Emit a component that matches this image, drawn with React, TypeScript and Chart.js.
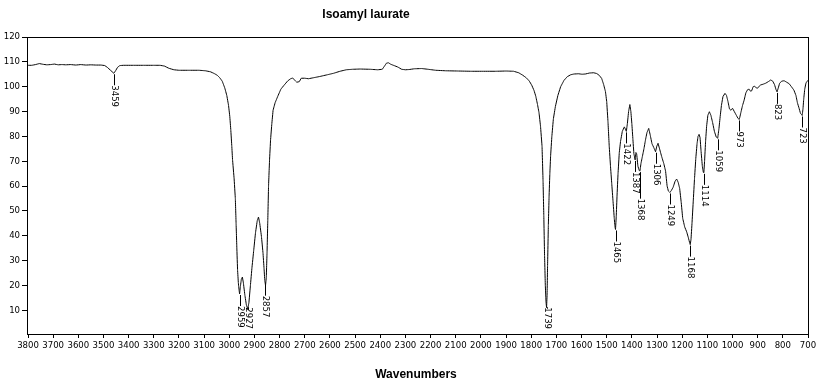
import React, { useEffect, useRef } from 'react';
import { Chart, registerables } from 'chart.js';

Chart.register(...registerables);

const chartTitle = 'Isoamyl laurate';
const xAxisTitle = 'Wavenumbers';

const wavenumbers = [
  3800, 3785, 3770, 3755, 3740, 3725, 3710, 3695, 3680, 3665, 3650, 3630, 3610, 3590, 3570, 3550, 3530, 3510,
  3495, 3485, 3472, 3459, 3452, 3444, 3435, 3420, 3380, 3340, 3300, 3275, 3258, 3240, 3220, 3200, 3160, 3120,
  3095, 3075, 3060, 3048, 3038, 3028, 3018, 3010, 3003, 2998, 2994, 2990, 2987, 2981, 2976, 2973, 2970, 2967,
  2964, 2961, 2959, 2956, 2952, 2948, 2944, 2938, 2932, 2927, 2922, 2916, 2910, 2903, 2896, 2889, 2884, 2879,
  2872, 2866, 2862, 2859, 2856, 2853, 2850, 2847, 2844, 2840, 2836, 2831, 2826, 2818, 2807, 2795, 2783, 2768,
  2756, 2748, 2740, 2732, 2722, 2714, 2700, 2685, 2665, 2640, 2610, 2585, 2560, 2535, 2510, 2480, 2440, 2410,
  2392, 2383, 2375, 2367, 2358, 2345, 2330, 2315, 2300, 2285, 2265, 2235, 2210, 2180, 2140, 2090, 2040, 1990,
  1940, 1900, 1870, 1850, 1835, 1820, 1808, 1798, 1789, 1782, 1775, 1769, 1763, 1757, 1753, 1750, 1747, 1744,
  1741, 1739, 1737, 1735, 1732, 1729, 1726, 1723, 1718, 1712, 1704, 1694, 1683, 1670, 1657, 1643, 1630, 1612,
  1598, 1585, 1568, 1552, 1540, 1530, 1520, 1512, 1505, 1500, 1495, 1490, 1485, 1480, 1475, 1470, 1467, 1465,
  1462, 1459, 1455, 1450, 1445, 1438, 1430, 1426, 1422, 1418, 1413, 1408, 1404, 1400, 1396, 1392, 1387, 1384,
  1381, 1376, 1371, 1368, 1364, 1358, 1352, 1346, 1340, 1333, 1327, 1320, 1313, 1306, 1301, 1296, 1290, 1282,
  1273, 1266, 1260, 1255, 1249, 1243, 1236, 1228, 1222, 1216, 1210, 1204, 1198, 1190, 1182, 1175, 1170, 1168,
  1165, 1161, 1156, 1151, 1146, 1141, 1137, 1133, 1129, 1125, 1120, 1116, 1114, 1111, 1107, 1103, 1098, 1092,
  1086, 1079, 1072, 1065, 1059, 1054, 1049, 1044, 1038, 1030, 1024, 1018, 1012, 1006, 1000, 993, 985, 978,
  973, 967, 960, 954, 947, 940, 934, 929, 924, 918, 912, 906, 900, 894, 888, 878, 868, 858, 848, 840, 833, 827,
  823, 819, 813, 805, 795, 785, 775, 766, 756, 748, 742, 736, 730, 726, 723, 720, 717, 713, 708, 700,
];

const transmittance = [
  108.6, 108.6, 108.9, 109.3, 109.0, 108.8, 108.9, 109.1, 108.8, 108.9, 108.8, 108.9, 108.7, 108.9, 108.7, 108.8, 108.7, 108.7,
  108.5, 107.8, 106.6, 105.4, 106.4, 107.8, 108.5, 108.6, 108.6, 108.6, 108.6, 108.6, 108.3, 107.4, 106.8, 106.6, 106.6, 106.6,
  106.4, 106.0, 105.3, 104.6, 103.6, 102.2, 99.5, 96.5, 92.5, 88, 82.6, 76, 70.5, 63.2, 55, 45, 35, 26,
  21, 18, 16.5, 19.5, 22.5, 23.3, 21, 16, 12, 10.5, 13, 20, 27, 34, 41, 46, 47.5, 45,
  39.5, 33, 27, 22, 20, 23, 33, 46, 60, 70.5, 78.5, 85, 90.5, 93.5, 96.2, 99, 100.5, 102.3,
  103.2, 103.5, 102.6, 101.8, 102, 103.4, 103.4, 103.2, 103.6, 104.1, 104.8, 105.4, 106.2, 106.8, 107.0, 107.1, 107.0, 106.8,
  107.0, 108.3, 109.5, 109.6, 109.0, 108.5, 107.9, 107.0, 106.8, 106.9, 107.2, 107.3, 107.0, 106.6, 106.4, 106.3, 106.2, 106.2,
  106.2, 106.3, 106.2, 105.6, 104.7, 103.6, 102.3, 100.6, 98.5, 96.2, 92.8, 89.5, 84, 76, 62, 48, 32, 20,
  13, 11, 16, 28, 44, 56, 65, 72, 80, 87, 92, 96.5, 100, 102.5, 104, 104.8, 105.1, 105.2,
  105.0, 105.1, 105.5, 105.6, 105.3, 104.6, 103.3, 100.8, 98, 94, 86, 76, 68, 61, 54, 47, 43.5, 42.5,
  48, 56, 65, 73.5, 78, 82, 83.8, 83, 82, 85, 90, 92.8, 90, 85, 79, 73, 70.5, 73.5,
  73, 68, 66.3, 66, 69, 72, 75, 78.5, 81.5, 83.2, 80.5, 77, 75.5, 73.8, 76, 77.2, 75, 72,
  69, 66, 60, 58, 57.4, 58.2, 59.5, 62, 62.8, 61.5, 59, 53.5, 47, 43.5, 41.5, 39, 37, 36.4,
  38.5, 45, 54, 63, 71, 77, 80, 80.8, 79.5, 74, 68, 65.5, 65.3, 70, 78, 84, 88.5, 89.9,
  88.5, 85.5, 82, 79.8, 79.2, 83, 88, 92.5, 96, 97.3, 96.5, 94, 91, 90.5, 91.3, 90, 88.5, 87.2,
  86.8, 89.5, 92.5, 94.5, 97.5, 98.8, 99, 98.2, 98.3, 100, 100.2, 99.5, 99.4, 100.2, 100.7, 101, 101.4, 102, 102.7, 102.2, 100.8, 98.8,
  97.9, 99.2, 101.3, 102.2, 102.4, 101.8, 101.2, 100, 98.6, 96.5, 93.5, 91.5, 89.3, 88.8, 88.4, 91, 95, 99, 101.5, 102.6,
];

const peakLabels = [3459, 2959, 2927, 2857, 1739, 1465, 1422, 1387, 1368, 1306, 1249, 1168, 1114, 1059, 973, 823, 723];

const xTickValues = [
  3800, 3700, 3600, 3500, 3400, 3300, 3200, 3100, 3000, 2900, 2800, 2700, 2600, 2500, 2400, 2300,
  2200, 2100, 2000, 1900, 1800, 1700, 1600, 1500, 1400, 1300, 1200, 1100, 1000, 900, 800, 700,
];
const yTickValues = [0, 10, 20, 30, 40, 50, 60, 70, 80, 90, 100, 110, 120];

const smallFamily = "'Liberation Sans Narrow', 'DejaVu Sans Condensed', 'Arial Narrow', 'Liberation Sans', sans-serif";
const boldFamily = "'Liberation Sans', Arial, sans-serif";

function interp(wn: number): number {
  for (let i = 0; i < wavenumbers.length - 1; i++) {
    const a = wavenumbers[i];
    const b = wavenumbers[i + 1];
    if (wn <= a && wn >= b) {
      const t = a === b ? 0 : (a - wn) / (a - b);
      return transmittance[i] + t * (transmittance[i + 1] - transmittance[i]);
    }
  }
  return transmittance[transmittance.length - 1];
}

const decorPlugin = {
  id: 'decor',
  afterDatasetsDraw(chart: any) {
    const { ctx, chartArea } = chart;
    const xs = chart.scales.x;
    const ys = chart.scales.y;
    ctx.save();
    // frame
    ctx.strokeStyle = '#000';
    ctx.lineWidth = 1;
    ctx.strokeRect(
      Math.round(chartArea.left) - 0.5,
      Math.round(chartArea.top) + 0.5,
      Math.round(chartArea.right - chartArea.left) + 1,
      Math.round(chartArea.bottom - chartArea.top) - 1
    );
    // peak labels
    ctx.font = `9.5px ${smallFamily}`;
    ctx.fillStyle = '#000';
    const placed: { x: number; start: number; end: number }[] = [];
    for (const wn of peakLabels) {
      const t = interp(wn);
      const px = Math.round(xs.getPixelForValue(wn)) + 0.5;
      const py = ys.getPixelForValue(t);
      const text = String(wn);
      const w = ctx.measureText(text).width;
      let start = py + 12;
      start = Math.min(start, chartArea.bottom - 6 - w);
      for (const p of placed) {
        if (Math.abs(p.x - px) < 7 && start < p.end + 4 && start + w > p.start - 4) {
          start = p.end + 5;
        }
      }
      ctx.beginPath();
      ctx.moveTo(px, py + 1);
      ctx.lineTo(px, start);
      ctx.stroke();
      ctx.save();
      ctx.translate(px, start);
      ctx.rotate(Math.PI / 2);
      ctx.textAlign = 'left';
      ctx.textBaseline = 'middle';
      ctx.fillText(text, 0, 0);
      ctx.restore();
      placed.push({ x: px, start, end: start + w });
    }
    // titles
    ctx.font = `bold 12px ${boldFamily}`;
    ctx.textAlign = 'center';
    ctx.textBaseline = 'alphabetic';
    ctx.fillText(chartTitle, 366, 18);
    ctx.fillText(xAxisTitle, (chartArea.left + chartArea.right) / 2 - 2, 378);
    ctx.restore();
  },
};

export default function App() {
  const canvasRef = useRef<HTMLCanvasElement | null>(null);

  useEffect(() => {
    const canvas = canvasRef.current;
    if (!canvas) return;
    const points = wavenumbers.map((x, i) => ({ x, y: transmittance[i] }));
    const chart = new Chart(canvas, {
      type: 'line',
      data: {
        datasets: [
          {
            data: points,
            borderColor: '#000',
            borderWidth: 1,
            pointRadius: 0,
            fill: false,
            tension: 0.0001,
            capBezierPoints: false,
          },
        ],
      },
      options: {
        responsive: false,
        animation: false,
        events: [],
        layout: { padding: { top: 37, right: 21, left: 0, bottom: 0 } },
        plugins: { legend: { display: false }, title: { display: false }, tooltip: { enabled: false } },
        scales: {
          x: {
            type: 'linear',
            reverse: true,
            min: 700,
            max: 3800,
            afterBuildTicks: (scale: any) => {
              scale.ticks = xTickValues.map((v) => ({ value: v }));
            },
            afterFit: (scale: any) => {
              scale.height = 49;
            },
            grid: { display: true, drawOnChartArea: false, drawTicks: true, tickLength: 3, color: '#000' },
            border: { display: false },
            ticks: {
              autoSkip: false,
              maxRotation: 0,
              minRotation: 0,
              padding: 2,
              color: '#000',
              font: { family: smallFamily, size: 9.5 },
              callback: (v: any) => String(v),
            },
          },
          y: {
            type: 'linear',
            min: 0,
            max: 120,
            afterBuildTicks: (scale: any) => {
              scale.ticks = yTickValues.map((v) => ({ value: v }));
            },
            afterFit: (scale: any) => {
              scale.width = 28;
            },
            grid: {
              display: true,
              drawOnChartArea: false,
              drawTicks: true,
              tickLength: 6,
              color: (c: any) => (c.tick && c.tick.value === 0 ? 'rgba(0,0,0,0)' : '#000'),
            },
            border: { display: false },
            ticks: {
              padding: 2,
              color: '#000',
              font: { family: smallFamily, size: 9.5 },
              callback: (v: any) => (v === 0 ? '' : String(v)),
            },
          },
        },
      },
      plugins: [decorPlugin],
    });
    return () => chart.destroy();
  }, []);

  return (
    <div style={{ position: 'fixed', left: 0, top: 0, width: 829, height: 384, background: '#fff' }}>
      <canvas ref={canvasRef} width={829} height={384} style={{ display: 'block', width: 829, height: 384 }} />
    </div>
  );
}
